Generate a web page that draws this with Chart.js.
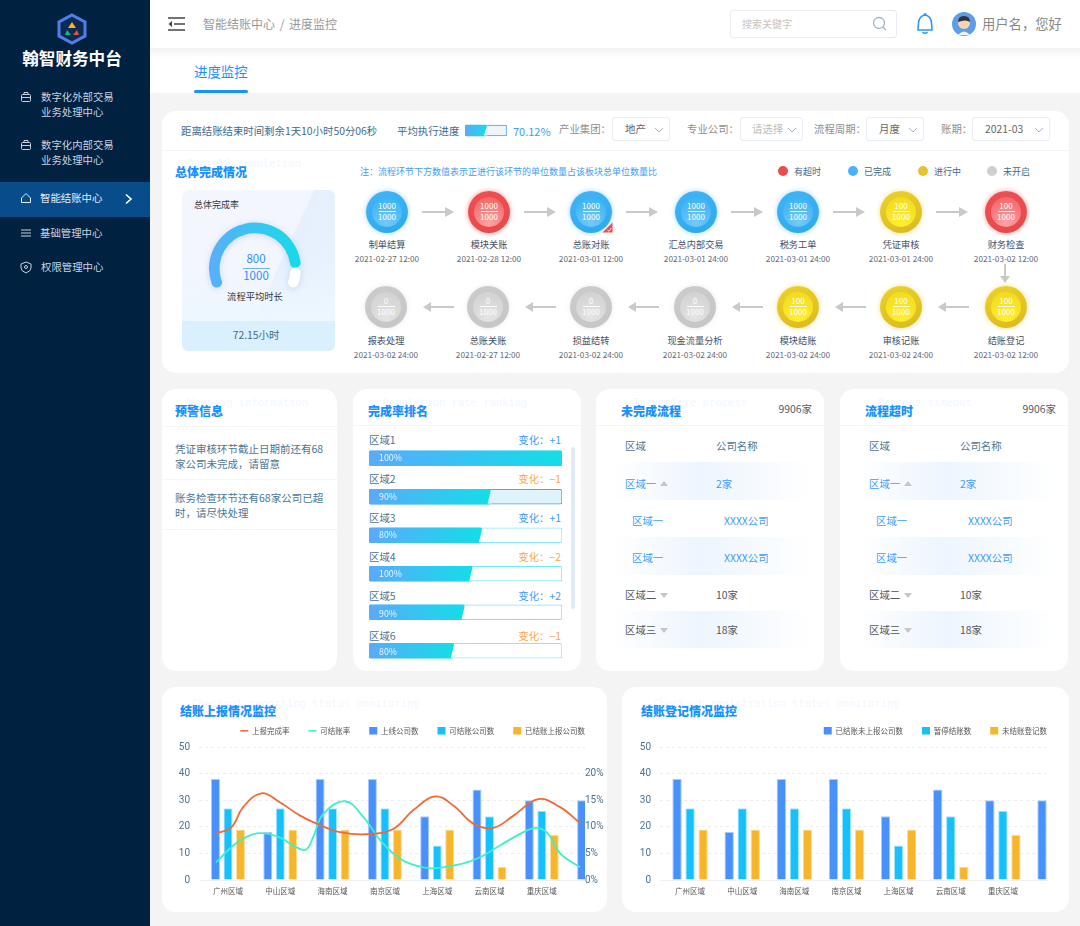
<!DOCTYPE html>
<html>
<head>
<meta charset="utf-8">
<title>进度监控</title>
<script src="https://cdn.jsdelivr.net/npm/chart.js@4"></script>
<style>
html, body { margin: 0; padding: 0; background: #f4f4f4; }
#page { position: relative; width: 1080px; height: 926px; overflow: hidden; background: #f4f4f4;
  font-family: "Noto Sans CJK SC", "Noto Sans", sans-serif; }
#page div, #page canvas, #page svg { position: absolute; }
.t { white-space: nowrap; line-height: 1; }
.card { background: #fff; border-radius: 14px; }
.title { font-weight: 900; color: #1890ff; }
.ghost { font-family: "DejaVu Sans Mono", monospace; color: #f1f7fe; }
</style>
</head>
<body>
<div id="page"></div>
<script>
// chart data
var regions = ["广州区域", "中山区域", "海南区域", "南京区域", "上海区域", "云南区域", "重庆区域", ""];
var onlineCompanies = [38, 18, 38, 38, 24, 34, 30, 30];
var closableCompanies = [27, 27, 27, 27, 13, 24, 26, null];
var reportedCompanies = [19, 19, 19, 19, 19, 5, 17, null];
var unreportedCompanies = [38, 18, 38, 38, 24, 34, 30, 30];
var suspendedCompanies = [27, 27, 27, 27, 13, 24, 26, null];
var unregisteredCompanies = [19, 19, 19, 19, 19, 5, 17, null];

var rateX = [-0.23, 0.07, 0.29, 0.64, 0.99, 1.38, 1.76, 2.14, 2.65, 3.16, 3.54, 3.96, 4.31, 4.69, 5.07, 5.46, 5.93, 6.35, 6.73];
var reportRate = [8.7, 9.95, 13.7, 16.3, 14.6, 12.1, 10.3, 9.0, 8.6, 9.6, 13.1, 15.7, 14.0, 10.6, 9.8, 12.1, 15.2, 13.7, 10.7];
var closeRateX = [-0.23, 0.07, 0.29, 0.61, 0.99, 1.28, 1.49, 1.63, 1.82, 2.24, 2.59, 2.91, 3.29, 3.67, 3.93, 4.31, 4.76, 5.2, 5.65, 5.9, 6.12, 6.35, 6.73];
var closeRate = [3.3, 6.2, 7.8, 8.8, 8.0, 6.3, 5.7, 8.1, 12.4, 14.8, 11.8, 7.5, 4, 2.5, 2.2, 2.7, 4, 6.5, 9, 9.8, 8.7, 5, 2.4];

var rankNames = ["区域1", "区域2", "区域3", "区域4", "区域5", "区域6"];
var rankLabels = ["100%", "90%", "80%", "100%", "90%", "80%"];
var rankChange = ["+1", "−1", "+1", "−2", "+2", "−1"];
var rankFill = [100, 63, 58.5, 53.5, 49.5, 44];
var avgProgress = [52];
var gaugeValues = [88, 12];

var topStages = ["制单结算", "模块关账", "总账对账", "汇总内部交易", "税务工单", "凭证审核", "财务检查"];
var topDates = ["2021-02-27 12:00", "2021-02-28 12:00", "2021-03-01 12:00", "2021-03-01 24:00", "2021-03-01 24:00", "2021-03-01 24:00", "2021-03-02 12:00"];
var topDone = [1000, 1000, 1000, 1000, 1000, 100, 100];
var topStatus = ["blue", "red", "blue", "blue", "blue", "yellow", "red"];
var bottomStages = ["报表处理", "总账关账", "损益结转", "现金流量分析", "模块结账", "审核记账", "结账登记"];
var bottomDates = ["2021-03-02 24:00", "2021-02-27 12:00", "2021-03-02 24:00", "2021-03-02 24:00", "2021-03-02 24:00", "2021-03-02 24:00", "2021-03-02 12:00"];
var bottomDone = [0, 0, 0, 0, 100, 100, 100];
var bottomStatus = ["gray", "gray", "gray", "gray", "yellow", "yellow", "yellow"];

var page = document.getElementById("page");

function box(x, y, w, h, css, cls) {
  var d = document.createElement("div");
  d.style.cssText = "left:" + x + "px;top:" + y + "px;width:" + w + "px;height:" + h + "px;" + (css || "");
  if (cls) d.className = cls;
  page.appendChild(d);
  return d;
}

// a = "c" centre, "r" right aligned at x
function text(str, x, y, size, color, a, cls) {
  var d = document.createElement("div");
  d.className = "t " + (cls || "");
  d.textContent = str;
  var tx = a === "c" ? "-50%" : a === "r" ? "-100%" : "0";
  d.style.cssText = "left:" + x + "px;top:" + y + "px;font-size:" + size + "px;color:" + color + ";transform:translate(" + tx + ",-50%);";
  page.appendChild(d);
  return d;
}

function svg(x, y, w, h, inner) {
  var wrap = document.createElement("div");
  wrap.style.cssText = "left:" + x + "px;top:" + y + "px;width:" + w + "px;height:" + h + "px;";
  wrap.innerHTML = '<svg width="' + w + '" height="' + h + '" viewBox="0 0 ' + w + ' ' + h + '">' + inner + "</svg>";
  page.appendChild(wrap);
}

function canvas(x, y, w, h, css) {
  var c = document.createElement("canvas");
  c.width = w;
  c.height = h;
  c.style.cssText = "left:" + x + "px;top:" + y + "px;width:" + w + "px;height:" + h + "px;" + (css || "");
  page.appendChild(c);
  return c;
}

/*-- sidebar --*/
box(0, 0, 150, 926, "background:#002140");
svg(57, 13, 30, 32, '<path d="M15 2 L28 9 L28 23 L15 30 L2 23 L2 9 Z" fill="#0d2b52" stroke="#4f7fe8" stroke-width="3"/>' +
  '<path d="M15 9 L19 15 L11 15 Z" fill="#f5b52a"/><path d="M10 17 L14 22 L8 22 Z" fill="#19b388"/><path d="M20 17 L22 22 L16 22 Z" fill="#e9503e"/>');
text("翰智财务中台", 72, 57.5, 16.6, "#fff", "c").style.fontWeight = "700";
box(0, 182, 150, 35, "background:#084c8c");
var sideText = "#c8d4e0";
text("数字化外部交易", 41, 97, 10.4, sideText);
text("业务处理中心", 41, 112, 10.4, sideText);
text("数字化内部交易", 41, 145, 10.4, sideText);
text("业务处理中心", 41, 160, 10.4, sideText);
text("智能结账中心", 40, 198, 10.4, "#e4ecf4");
text("基础管理中心", 40, 233, 10.4, sideText);
text("权限管理中心", 41, 267, 10.4, sideText);
var iconCase = '<rect x="1.5" y="3.5" width="9" height="7" rx="1" fill="none" stroke="#c8d4e0"/><path d="M4 3.5 V1.5 H8 V3.5 M1.5 6.5 H10.5" fill="none" stroke="#c8d4e0"/>';
svg(20, 91, 12, 12, iconCase);
svg(20, 139, 12, 12, iconCase);
svg(20, 192, 12, 12, '<path d="M1.5 6 L6 1.5 L10.5 6 V10.5 H1.5 Z" fill="none" stroke="#e4ecf4"/>');
svg(20, 227, 12, 12, '<path d="M1 3 H11 M1 6 H11 M1 9 H11" stroke="#c8d4e0"/>');
svg(20, 261, 12, 13, '<path d="M6 1 L11 3 V7 Q11 10 6 12 Q1 10 1 7 V3 Z" fill="none" stroke="#c8d4e0"/><circle cx="6" cy="6" r="1.5" fill="none" stroke="#c8d4e0"/>');
svg(124, 193, 10, 12, '<path d="M2 1.5 L7 6 L2 10.5" fill="none" stroke="#fff" stroke-width="1.6"/>');

/*-- top bar --*/
box(150, 48, 930, 45, "background:linear-gradient(#f1f1f1,#fff 10px)");
box(150, 0, 930, 48, "background:#fff");
svg(167, 16, 20, 16, '<path d="M1 2 H18 M7 8 H18 M1 14 H18" stroke="#444" stroke-width="1.5"/><path d="M5 5 L1.5 8 L5 11 Z" fill="#444"/>');
text("智能结账中心 / 进度监控", 203, 24, 12, "#999").style.wordSpacing = "2px";
box(730, 10, 167, 28, "background:#fff;border:1px solid #e8ecf4;border-radius:3px;box-sizing:border-box");
text("搜索关键字", 742, 24, 10, "#c4c4c4");
svg(872, 16, 16, 16, '<circle cx="7" cy="7" r="5.5" fill="none" stroke="#9fb3c8" stroke-width="1.3"/><path d="M11 11 L14 14" stroke="#9fb3c8" stroke-width="1.3"/>');
svg(916, 12, 18, 24, '<path d="M9 3 Q3 4 2.5 11 L2 18 H16 L15.5 11 Q15 4 9 3 Z" fill="none" stroke="#2f95fb" stroke-width="1.6"/><circle cx="9" cy="2.5" r="1.5" fill="#2f95fb"/><path d="M6.5 20 Q9 22.5 11.5 20" fill="none" stroke="#2f95fb" stroke-width="1.6"/>');
svg(952, 12, 24, 24, '<circle cx="12" cy="12" r="12" fill="#5c9fe8"/><path d="M6 23 Q12 16 18 23 Z" fill="#f2f2f2"/><circle cx="12" cy="11" r="6" fill="#f5d3b5"/><path d="M6 10 Q6 4 12 4 Q18 4 18 10 Q14 7 6 10 Z" fill="#333"/>');
text("用户名，您好", 982, 24, 13.3, "#888");
text("进度监控", 194, 71.5, 13.4, "#1890ff");
box(194, 90, 54, 3, "background:#1890ff;border-radius:2px");

/*-- overall card --*/
box(162, 111, 907, 262, "", "card");
box(162, 150, 907, 1, "background:#f1f3f5");
var headBlue = "#3f6a8a";
text("距离结账结束时间剩余1天10小时50分06秒", 181, 131, 10.4, headBlue);
text("平均执行进度", 397, 131, 10.4, headBlue);
text("70.12%", 513, 131, 11, "#3e9cf8");

var filterLabels = ["产业集团：", "专业公司：", "流程周期：", "账期："];
var filterLabelX = [559, 687, 814, 941];
var filterBoxX = [612, 740, 866, 972];
var filterBoxW = [58, 63, 58, 78];
var filterText = ["地产", "请选择", "月度", "2021-03"];
var filterTextX = [625, 752, 879, 985];
filterLabels.forEach(function (s, i) {
  text(s, filterLabelX[i], 129, 10.4, "#8f8f8f");
  box(filterBoxX[i], 117, filterBoxW[i], 24, "background:#fff;border:1px solid #e8ecf5;border-radius:3px;box-sizing:border-box");
  text(filterText[i], filterTextX[i], 129, 10.4, i === 1 ? "#bbb" : "#666");
  svg(filterBoxX[i] + filterBoxW[i] - 16, 127, 10, 6, '<path d="M1 1 L5 5 L9 1" fill="none" stroke="#a9b6c6"/>');
});

text("Overall completion", 187, 163, 10.5, "#f1f7fe", "", "ghost");
text("总体完成情况", 175, 172, 12, "#1890ff", "", "title");
text("注：流程环节下方数值表示正进行该环节的单位数量占该板块总单位数量比", 360, 171, 9, "#3e9cf8");

var statusNames = ["有超时", "已完成", "进行中", "未开启"];
var statusColor = ["#ee4c4c", "#4ab2fa", "#e6c52a", "#cfcfcf"];
var statusDotX = [783, 853, 923, 992];
statusNames.forEach(function (s, i) {
  box(statusDotX[i] - 5, 166, 10, 10, "border-radius:50%;background:" + statusColor[i]);
  text(s, statusDotX[i] + 11, 171, 9, headBlue);
});

/*-- gauge panel --*/
box(182, 190, 153, 161, "border-radius:6px;overflow:hidden;background:linear-gradient(115deg,#f4f6fe 0,#f4f6fe 58%,#e6f0fd 58%,#eaf4fe 100%)");
box(182, 260, 153, 61, "background:linear-gradient(rgba(238,247,254,0),#edf7fe)");
box(182, 321, 153, 30, "background:#dbf0fe;border-radius:0 0 6px 6px");
text("总体完成率", 194, 204, 9, "#334");
text("800", 256, 259, 11.5, "#2a8ff5", "c");
box(243, 268, 27, 1, "background:#6fb4f8");
text("1000", 256, 276, 11.5, "#2a8ff5", "c");
text("流程平均时长", 255, 297, 9.3, "#334", "c");
text("72.15小时", 256, 335, 10.4, headBlue, "c");

/*-- flow nodes --*/
var nodeStyle = {
  blue: ["#40b3f8", "#2da9ee", "#74caf6", "rgba(74,178,250,.55)", "#33aff0"],
  red: ["#ef4f50", "#e8484a", "#fba3a5", "rgba(238,76,76,.6)", "#ee5e60"],
  yellow: ["#ead328", "#dcb820", "#fff02f", "rgba(230,197,42,.55)", "#f0d81e"],
  gray: ["#cbcbcb", "#c6c6c6", "#e4e4e4", "rgba(200,200,200,.4)", "#cfcfcf"]
};
var topNodeX = [387, 489, 591, 696, 798, 901, 1006];
var bottomNodeX = [386, 488, 591, 695, 798, 901, 1006];

function flowNode(name, date, done, status, cx, cy, nameY, dateY) {
  var s = nodeStyle[status];
  box(cx - 21, cy - 21, 42, 42, "border-radius:50%;background:linear-gradient(160deg," + s[0] + "," + s[1] + ");box-shadow:0 0 5px " + s[3]);
  box(cx - 15, cy - 15, 30, 30, "border-radius:50%;background:radial-gradient(circle at 50% 85%," + s[2] + "," + s[4] + ")");
  text(String(done), cx, cy - 6, 8, "#fff", "c");
  box(cx - 8.5, cy - 1, 17, 1, "background:rgba(255,255,255,.85)");
  text("1000", cx, cy + 5, 8, "#fff", "c");
  text(name, cx, nameY, 9.2, "#445064", "c");
  text(date, cx, dateY, 8.2, "#626a78", "c");
}
topStages.forEach(function (s, i) {
  flowNode(s, topDates[i], topDone[i], topStatus[i], topNodeX[i], 212, 244.5, 258);
});
bottomStages.forEach(function (s, i) {
  flowNode(s, bottomDates[i], bottomDone[i], bottomStatus[i], bottomNodeX[i], 307, 341, 354);
});
svg(602, 222, 11, 11, '<path d="M10.5 0.5 V10.5 H0.5 Z" fill="#ee4c4c"/><path d="M5.5 8 L7 9.3 L9.3 6" fill="none" stroke="#fff" stroke-width=".8"/>');

var arrows = "";
for (var i = 0; i < 6; i++) {
  var rx = topNodeX[i] + 35;
  arrows += '<path d="M' + rx + ' 212 H' + (rx + 24) + '" stroke="#c9c9c9" stroke-width="2"/><path d="M' + (rx + 23) + ' 207 L' + (rx + 32) + ' 212 L' + (rx + 23) + ' 217 Z" fill="#c9c9c9"/>';
  var lx = bottomNodeX[i] + 37;
  arrows += '<path d="M' + (lx + 7) + ' 307 H' + (lx + 31) + '" stroke="#c9c9c9" stroke-width="2"/><path d="M' + (lx + 8) + ' 302 L' + lx + ' 307 L' + (lx + 8) + ' 312 Z" fill="#c9c9c9"/>';
}
arrows += '<path d="M1005 264 V277" stroke="#c9c9c9" stroke-width="2"/><path d="M1000 276 L1005 283 L1010 276 Z" fill="#c9c9c9"/>';
svg(0, 0, 1080, 400, arrows);

/*-- warning card --*/
box(162, 389, 175, 282, "", "card");
box(162, 426, 175, 1, "background:#f4f5f7");
text("Warning information", 188, 402, 10.5, "#f1f7fe", "", "ghost");
text("预警信息", 175, 411, 12, "#1890ff", "", "title");
text("凭证审核环节截止日期前还有68", 175, 449, 10.5, "#4b7592");
text("家公司未完成，请留意", 175, 464, 10.5, "#4b7592");
box(162, 479, 175, 1, "background:#f4f5f7");
text("账务检查环节还有68家公司已超", 175, 498, 10.5, "#4b7592");
text("时，请尽快处理", 175, 513, 10.5, "#4b7592");
box(162, 529, 175, 1, "background:#f4f5f7");

/*-- ranking card --*/
box(353, 389, 228, 282, "", "card");
box(353, 425, 228, 1, "background:#f4f5f7");
text("Completion rate ranking", 382, 402, 10.5, "#f1f7fe", "", "ghost");
text("完成率排名", 368, 411, 12, "#1890ff", "", "title");
box(571, 447, 4, 162, "background:#e1ebf8;border-radius:2px");
var rankLabelY = [440, 479, 518, 557, 596, 636];
var rankBarY = [457.5, 496.5, 534.5, 573.5, 613.5, 651.5];
rankNames.forEach(function (s, i) {
  text(s, 369, rankLabelY[i], 10.4, "#4b7592");
  var up = rankChange[i].charAt(0) === "+";
  text("变化：" + rankChange[i], 561, rankLabelY[i], 10.4, up ? "#3e9cf8" : "#fba74a", "r");
});

// slanted end of the filled part of a progress bar
var slantEnd = {
  id: "slantEnd",
  afterDatasetsDraw: function (chart) {
    var c = chart.ctx;
    var track = chart.data.datasets[1].backgroundColor;
    chart.getDatasetMeta(0).data.forEach(function (bar, i) {
      if (chart.data.datasets[0].data[i] >= 100) return;
      var top = bar.y - bar.height / 2, bottom = bar.y + bar.height / 2 - 0.5;
      c.save();
      c.fillStyle = track[i];
      c.beginPath();
      c.moveTo(bar.x + 0.5, top);
      c.lineTo(bar.x + 0.5, bottom);
      c.lineTo(bar.x - 3, bottom);
      c.closePath();
      c.fill();
      c.restore();
    });
  }
};

function progressChart(cv, labels, values, tracks, borders, thickness) {
  return new Chart(cv.getContext("2d"), {
    type: "bar",
    plugins: [slantEnd],
    data: {
      labels: labels,
      datasets: [{
        data: values,
        order: 0,
        grouped: false,
        barThickness: thickness,
        borderRadius: 2,
        borderSkipped: false,
        backgroundColor: function (ctx) {
          var chart = ctx.chart;
          if (!chart.chartArea) return "#4ab2fa";
          var x0 = chart.scales.x.getPixelForValue(0);
          var x1 = chart.scales.x.getPixelForValue(ctx.raw);
          var g = chart.ctx.createLinearGradient(x0, 0, x1, 0);
          g.addColorStop(0, "#5aaafb");
          g.addColorStop(1, "#14dde8");
          return g;
        }
      }, {
        data: labels.map(function () { return 100; }),
        order: 1,
        grouped: false,
        barThickness: thickness,
        borderRadius: 2,
        borderWidth: 1,
        borderSkipped: false,
        backgroundColor: tracks,
        borderColor: borders
      }]
    },
    options: {
      indexAxis: "y",
      responsive: false,
      animation: false,
      layout: { padding: 1 },
      plugins: { legend: { display: false }, tooltip: { enabled: false } },
      scales: {
        x: { display: false, min: 0, max: 100 },
        y: { display: false }
      }
    }
  });
}

progressChart(canvas(368, 438, 195, 233), rankNames, rankFill,
  ["#ffffff", "#dff3fd", "#ffffff", "#ffffff", "#ffffff", "#ffffff"],
  ["#6fe6f9", "#4aa3f3", "#86ecfb", "#6fe6f9", "#6fe6f9", "#86ecfb"], 15);
rankLabels.forEach(function (s, i) {
  text(s, 379, rankBarY[i] + 0.5, 8.8, "#eaf6ff");
});
progressChart(canvas(464, 122, 44, 17), ["平均执行进度"], avgProgress, ["#eef4fb"], ["#4a9df5"], 11);

/*-- gauge --*/
new Chart(canvas(208, 221, 94, 70, "filter:drop-shadow(0 1px 3px rgba(80,120,180,.25))").getContext("2d"), {
  type: "doughnut",
  data: {
    labels: ["已完成", "未完成"],
    datasets: [{
      data: gaugeValues,
      borderWidth: 0,
      borderRadius: 5,
      backgroundColor: function (ctx) {
        if (ctx.dataIndex === 1) return "#ffffff";
        var chart = ctx.chart;
        if (!chart.chartArea) return "#4ab2fa";
        var g = chart.ctx.createLinearGradient(0, 0, chart.width, 0);
        g.addColorStop(0, "#5aaefb");
        g.addColorStop(1, "#14dce8");
        return g;
      }
    }]
  },
  options: {
    responsive: false,
    animation: false,
    rotation: -117,
    circumference: 234,
    cutout: "77%",
    layout: { padding: 1 },
    plugins: { legend: { display: false }, tooltip: { enabled: false } }
  }
});

/*-- process tables --*/
function processTable(x, ghost, title, titleX, ghostX, countX) {
  var dx = x - 596;
  box(x, 389, 228, 282, "", "card");
  box(x, 425, 228, 1, "background:#f4f5f7");
  text(ghost, ghostX, 402, 10.5, "#f1f7fe", "", "ghost");
  text(title, titleX, 411, 12, "#1890ff", "", "title");
  text("9906家", countX, 409, 10.4, "#50606e", "r");
  var strip = "background:linear-gradient(90deg,rgba(237,245,254,0),#edf5fe 45%,rgba(237,245,254,0))";
  box(612 + dx, 462, 200, 38, strip);
  box(612 + dx, 537, 200, 38, strip);
  box(612 + dx, 611, 200, 37, strip);
  var blue = "#3e9cf8", dark = "#50575f";
  text("区域", 625 + dx, 446, 10.4, "#4b7592");
  text("公司名称", 716 + dx, 446, 10.4, "#4b7592");
  text("区域一", 625 + dx, 484, 10.4, blue);
  text("2家", 716 + dx, 484, 10.4, blue);
  text("区域一", 632 + dx, 521, 10.4, blue);
  text("XXXX公司", 724 + dx, 521, 10.4, blue);
  text("区域一", 632 + dx, 558, 10.4, blue);
  text("XXXX公司", 724 + dx, 558, 10.4, blue);
  text("区域二", 625 + dx, 595, 10.4, dark);
  text("10家", 716 + dx, 595, 10.4, dark);
  text("区域三", 625 + dx, 630, 10.4, dark);
  text("18家", 716 + dx, 630, 10.4, dark);
  svg(660 + dx, 481, 8, 5, '<path d="M0 5 L4 0 L8 5 Z" fill="#c6c6c6"/>');
  svg(660 + dx, 593, 8, 5, '<path d="M0 0 L4 5 L8 0 Z" fill="#c6c6c6"/>');
  svg(660 + dx, 628, 8, 5, '<path d="M0 0 L4 5 L8 0 Z" fill="#c6c6c6"/>');
}
processTable(596, "Incomplete process", "未完成流程", 621, 633, 812);
processTable(840, "Process timeout", "流程超时", 865, 877, 1056);

/*-- bottom charts --*/
box(162, 687, 445, 225, "", "card");
text("Checkout reporting status monitoring", 192, 703, 10.5, "#f1f7fe", "", "ghost");
text("结账上报情况监控", 180, 711, 12, "#1890ff", "", "title");
box(622, 687, 447, 225, "", "card");
text("Checkout registration status monitoring", 653, 703, 10.5, "#f1f7fe", "", "ghost");
text("结账登记情况监控", 641, 711, 12, "#1890ff", "", "title");

var tickColor = "#4d7390";
var legendPadding = 19;

function points(xs, ys) {
  return ys.map(function (y, i) { return { x: xs[i], y: y }; });
}

function barSet(label, values, color, edge, catPct) {
  return {
    type: "bar",
    label: label,
    data: points(values.map(function (v, i) { return i; }), values),
    backgroundColor: color,
    borderColor: edge,
    borderWidth: 1,
    categoryPercentage: catPct,
    barPercentage: 0.72,
    yAxisID: "y",
    order: 2
  };
}

function lineSet(label, xs, ys, color) {
  return {
    type: "line",
    label: label,
    data: points(xs, ys),
    borderColor: color,
    backgroundColor: color,
    borderWidth: 1.8,
    pointRadius: 0,
    tension: 0.4,
    yAxisID: "y1",
    order: 1
  };
}

// legend of fixed height, so the plot area sits where it should
var fixedLegend = {
  id: "fixedLegend",
  beforeLayout: function (chart) {
    var legend = chart.legend;
    if (legend.fixedFit) return;
    legend.fixedFit = true;
    var fit = legend.fit;
    legend.fit = function () {
      fit.call(this);
      this.height = 39;
    };
  }
};

function monitorChart(cv, datasets, xMin, xMax, showRight, yWidth) {
  return new Chart(cv.getContext("2d"), {
    data: { datasets: datasets },
    plugins: [fixedLegend],
    options: {
      responsive: false,
      animation: false,
      layout: { padding: { left: 0, right: 3, top: 0, bottom: 0 } },
      plugins: {
        tooltip: { enabled: false },
        legend: {
          position: "top",
          align: "end",
          labels: {
            font: { size: 7.5, family: '"Noto Sans CJK SC"' },
            color: "#555",
            padding: legendPadding,
            boxHeight: 7.5,
            usePointStyle: true,
            pointStyleWidth: 8,
            generateLabels: function (chart) {
              return chart.data.datasets.map(function (d, i) {
                return {
                  text: d.label,
                  datasetIndex: i,
                  fillStyle: d.backgroundColor,
                  strokeStyle: d.type === "line" ? d.borderColor : d.backgroundColor,
                  lineWidth: d.type === "line" ? 1.6 : 0,
                  pointStyle: d.type === "line" ? "line" : "rect",
                  fontColor: "#555"
                };
              });
            }
          }
        }
      },
      scales: {
        x: {
          type: "linear",
          offset: false,
          min: xMin,
          max: xMax,
          grid: { display: false, drawTicks: false, offset: false },
          border: { color: "#eef0f3" },
          afterBuildTicks: function (axis) {
            axis.ticks = regions.slice(0, 7).map(function (r, i) { return { value: i }; });
          },
          afterFit: function (axis) { axis.height = 25; },
          ticks: {
            autoSkip: false,
            maxRotation: 0,
            padding: 7,
            color: "#555",
            font: { size: 7.5, family: '"Noto Sans CJK SC"' },
            callback: function (v) { return regions[v]; }
          }
        },
        y: {
          min: 0,
          max: 50,
          afterFit: function (axis) { axis.width = yWidth; },
          border: { display: false, dash: [3, 3] },
          grid: { color: "#ececec", drawTicks: false },
          ticks: { stepSize: 10, padding: 9, color: tickColor, font: { size: 10, family: "Roboto" } }
        },
        y1: {
          position: "right",
          min: 0,
          max: 25,
          afterFit: function (axis) { axis.width = legendPadding; },
          border: { display: false },
          grid: { display: false, drawTicks: false },
          ticks: {
            display: showRight,
            stepSize: 5,
            padding: 0,
            color: tickColor,
            font: { size: 10, family: "Roboto" },
            callback: function (v) { return v === 25 ? "" : v + "%"; }
          }
        }
      }
    }
  });
}

monitorChart(canvas(162, 708, 445, 197), [
  lineSet("上报完成率", rateX, reportRate, "#ef6a35"),
  lineSet("可结账率", closeRateX, closeRate, "#3cf0c8"),
  barSet("上线公司数", onlineCompanies, "#4890fb", "#a9ccff", 0.717),
  barSet("可结账公司数", closableCompanies, "#16c0ff", "#a7e7ff", 0.717),
  barSet("已结账上报公司数", reportedCompanies, "#f6b52a", "#fde0a0", 0.717)
], -0.554, 6.826, true, 37);

monitorChart(canvas(622, 708, 447, 197), [
  barSet("已结账未上报公司数", unreportedCompanies, "#4890fb", "#a9ccff", 0.75),
  barSet("暂停结账数", suspendedCompanies, "#16c0ff", "#a7e7ff", 0.75),
  barSet("未结账登记数", unregisteredCompanies, "#f6b52a", "#fde0a0", 0.75)
], -0.577, 6.846, false, 38);
</script>
</body>
</html>
